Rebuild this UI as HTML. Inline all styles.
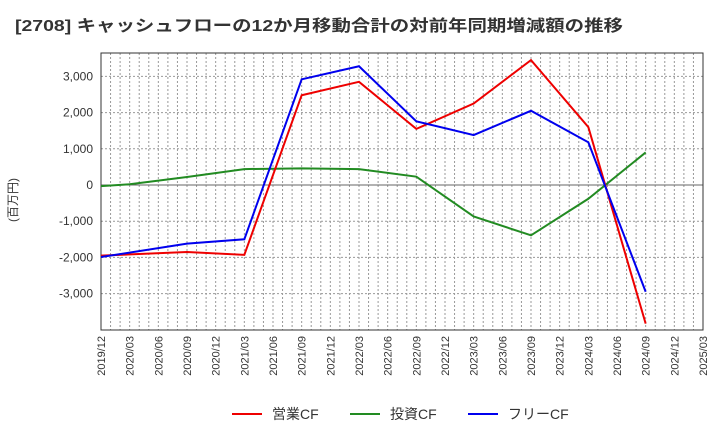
<!DOCTYPE html>
<html><head><meta charset="utf-8"><style>
body{margin:0;background:#fff;font-family:"Liberation Sans","Noto Sans CJK JP",sans-serif;}
</style></head><body>
<svg id="c" width="720" height="440" xmlns="http://www.w3.org/2000/svg">
<text x="15" y="31" font-size="16" font-weight="bold" fill="#333" textLength="608" lengthAdjust="spacingAndGlyphs" font-family="Liberation Sans, Noto Sans CJK JP, sans-serif">[2708]  キャッシュフローの12か月移動合計の対前年同期増減額の推移</text>
<g id="grid"></g><g id="axes"></g><g id="series"></g>
<text transform="translate(17,200) rotate(-90)" font-size="12" fill="#333" text-anchor="middle" font-family="Liberation Sans, Noto Sans CJK JP, sans-serif">(百万円)</text>
<g font-size="14" fill="#333" font-family="Liberation Sans, Noto Sans CJK JP, sans-serif">
<line x1="232" y1="414" x2="262" y2="414" stroke="#e00" stroke-width="2"/>
<text x="272" y="419">営業CF</text>
<line x1="350" y1="414" x2="380" y2="414" stroke="#228b22" stroke-width="2"/>
<text x="390" y="419">投資CF</text>
<line x1="468" y1="414" x2="498" y2="414" stroke="#00e" stroke-width="2"/>
<text x="508" y="419">フリーCF</text>
</g>
</svg>
<script>
const categories=["2019/12","2020/03","2020/06","2020/09","2020/12","2021/03","2021/06","2021/09","2021/12","2022/03","2022/06","2022/09","2022/12","2023/03","2023/06","2023/09","2023/12","2024/03","2024/06","2024/09","2024/12","2025/03"];
const yTicks=[3000,2000,1000,0,-1000,-2000,-3000];
const operatingIdx=[0,3,5,7,9,11,13,15,17,19];
const operatingVals=[-1950,-1850,-1930,2480,2850,1550,2250,3450,1600,-3830];
const investingIdx=[0,1,3,5,7,9,11,13,15,17,19];
const investingVals=[-30,20,220,440,460,440,230,-870,-1390,-380,900];
const freeIdx=[0,3,5,7,9,11,13,15,17,19];
const freeVals=[-1990,-1620,-1500,2920,3280,1760,1380,2050,1180,-2950];

const NS="http://www.w3.org/2000/svg";
const L=101,R=703,T=53,B=330;
const x=i=>L+(R-L)*i/(categories.length-1);
const y=v=>185-v*0.0362;
function mk(p,tag,a){const e=document.createElementNS(NS,tag);for(const k in a)e.setAttribute(k,a[k]);document.getElementById(p).appendChild(e);return e;}
const months=(categories.length-1)*3;
for(let m=1;m<months;m++){const xx=L+(R-L)*m/months;
const g=mk('grid','line',{x1:xx,x2:xx,y1:T,y2:B,stroke:'#999','stroke-width':1,'stroke-dasharray':'2,2'});

}
yTicks.forEach(v=>{const yy=y(v);
const g=mk('grid','line',{x1:L,x2:R,y1:yy,y2:yy,stroke:v===0?'#666':'#999','stroke-width':1,'stroke-dasharray':v===0?'none':'2,2'});


const t=mk('axes','text',{x:L-8,y:yy+4,'text-anchor':'end','font-size':12,fill:'#333'});t.textContent=v.toLocaleString('en-US');

});
const fr=mk('axes','rect',{x:L,y:T,width:R-L,height:B-T,fill:'none',stroke:'#333'});


categories.forEach((c,i)=>{const t=mk('axes','text',{transform:`translate(${x(i)+4},${B+6}) rotate(-90)`,'text-anchor':'end','font-size':11,fill:'#333'});t.textContent=c;

});
function line(idx,vals,col,name){const p=mk('series','polyline',{points:idx.map((i,k)=>x(i)+','+y(vals[k])).join(' '),fill:'none',stroke:col,'stroke-width':2});

}
line(investingIdx,investingVals,'#228b22','investing-cf-line');
line(operatingIdx,operatingVals,'#e00','operating-cf-line');
line(freeIdx,freeVals,'#00e','free-cf-line');
</script>
</body></html>
